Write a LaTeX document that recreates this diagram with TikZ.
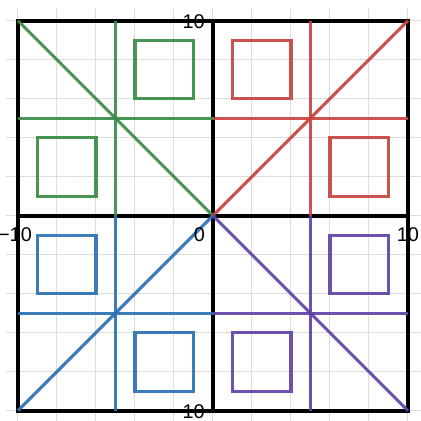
\documentclass[tikz,border=0pt]{standalone}
\usepackage{fontspec}
\setmainfont{Liberation Sans}
\definecolor{dgreen}{HTML}{388C46}
\definecolor{dred}{HTML}{C74440}
\definecolor{dblue}{HTML}{2D70B3}
\definecolor{dpurple}{HTML}{6042A6}
\definecolor{gridgray}{HTML}{DDDDDD}
\begin{document}
\begin{tikzpicture}[x=1cm,y=1cm,
  gridline/.style={draw=gridgray, line width=1.4pt},
  framestyle/.style={draw=black, line width=5.5pt},
  seg/.style={line width=4.6pt, opacity=0.92},
  lbl/.style={font=\fontsize{29}{29}\selectfont, inner sep=0pt}]
\useasboundingbox (-10.92,-10.53) rectangle (10.67,11.06);
% grid
\foreach \v in {-10,-8,...,10} {
  \draw[gridline] (\v,-10.8) -- (\v,10.63);
  \draw[gridline] (-10.63,\v) -- (10.8,\v);
}
% frame and axes
\draw[framestyle] (-10,-10) rectangle (10,10);
\draw[framestyle] (0,-10) -- (0,10);
\draw[framestyle] (-10,0) -- (10,0);
% green quadrant
\draw[seg, dgreen] (-10,10) -- (0,0);
\draw[seg, dgreen] (-5,0) -- (-5,10);
\draw[seg, dgreen] (-10,5) -- (0,5);
\draw[seg, dgreen] (-4,6) rectangle (-1,9);
\draw[seg, dgreen] (-9,1) rectangle (-6,4);
% red quadrant
\draw[seg, dred] (10,10) -- (0,0);
\draw[seg, dred] (5,0) -- (5,10);
\draw[seg, dred] (10,5) -- (0,5);
\draw[seg, dred] (1,6) rectangle (4,9);
\draw[seg, dred] (6,1) rectangle (9,4);
% blue quadrant
\draw[seg, dblue] (-10,-10) -- (0,0);
\draw[seg, dblue] (-5,0) -- (-5,-10);
\draw[seg, dblue] (-10,-5) -- (0,-5);
\draw[seg, dblue] (-9,-4) rectangle (-6,-1);
\draw[seg, dblue] (-4,-9) rectangle (-1,-6);
% purple quadrant
\draw[seg, dpurple] (10,-10) -- (0,0);
\draw[seg, dpurple] (5,0) -- (5,-10);
\draw[seg, dpurple] (10,-5) -- (0,-5);
\draw[seg, dpurple] (6,-4) rectangle (9,-1);
\draw[seg, dpurple] (1,-9) rectangle (4,-6);
% labels
\node[lbl, anchor=base east] (ytop) at (-0.41,9.62) {10};
\node[lbl, anchor=base east] (ybot) at (-0.41,-10.38) {−10};
\node[lbl, anchor=base east] (orig) at (-0.41,-1.35) {0};
\node[lbl, anchor=base east] (xleft) at (-9.28,-1.35) {−10};
\node[lbl, anchor=base] (xright) at (10,-1.35) {10};
\end{tikzpicture}
\end{document}
